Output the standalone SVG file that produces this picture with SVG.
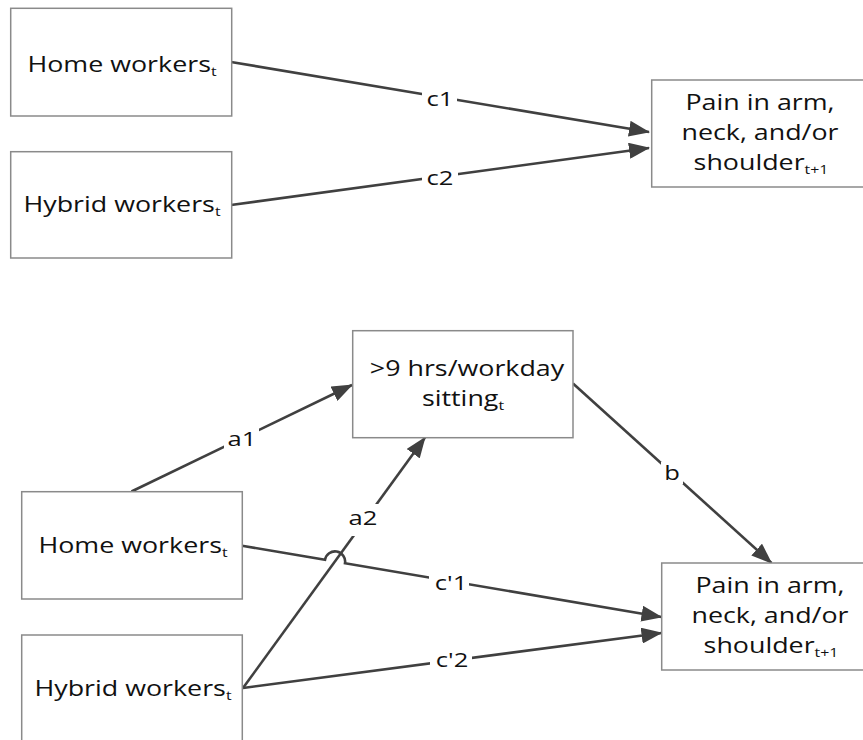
<svg xmlns="http://www.w3.org/2000/svg" width="863" height="740" viewBox="0 0 863 740">
<style>
.box{fill:#fff;stroke:#8a8a8a;stroke-width:1.5}
.t{font-family:"Open Sans","Liberation Sans",sans-serif;font-size:22px;fill:#111;text-anchor:middle}
.sub{font-size:13px}
.edge{fill:none;stroke:#404040;stroke-width:2.6}
.lbl{font-family:"Open Sans","Liberation Sans",sans-serif;font-size:20px;fill:#111;text-anchor:middle}
.bg{fill:#fff}
</style>
<defs>
<marker id="arr" markerUnits="userSpaceOnUse" markerWidth="21" markerHeight="16" viewBox="0 0 21 16" refX="20" refY="8" orient="auto">
<path d="M0,0 L21,8 L0,16 z" fill="#404040"/>
</marker>
</defs>
<rect width="863" height="740" fill="#fff"/>
<g id="connectors">
<line class="edge" x1="231" y1="62" x2="649" y2="132" marker-end="url(#arr)"/>
<line class="edge" x1="231" y1="205" x2="649" y2="148" marker-end="url(#arr)"/>
<line class="edge" x1="131.5" y1="491.5" x2="352" y2="385" marker-end="url(#arr)"/>
<line class="edge" x1="243" y1="688" x2="425" y2="437.5" marker-end="url(#arr)"/>
<line class="edge" x1="573" y1="383.5" x2="771.5" y2="563" marker-end="url(#arr)"/>
<path class="edge" d="M242,545.7 L325,559.8 A10,10 0 0 1 345,563.2 L661.5,617" marker-end="url(#arr)"/>
<line class="edge" x1="243" y1="688" x2="661.5" y2="633" marker-end="url(#arr)"/>
<rect class="bg" x="422" y="88" width="35" height="22"/>
<text class="lbl" transform="translate(440 106) scale(1.28 1)">c1</text>
<rect class="bg" x="422" y="166" width="36" height="22"/>
<text class="lbl" transform="translate(440 185) scale(1.28 1)">c2</text>
<rect class="bg" x="224" y="428" width="35" height="22"/>
<text class="lbl" transform="translate(242 446) scale(1.28 1)">a1</text>
<rect class="bg" x="349" y="504" width="31" height="32"/>
<text class="lbl" transform="translate(363 525) scale(1.28 1)">a2</text>
<rect class="bg" x="661" y="462" width="22" height="22"/>
<text class="lbl" transform="translate(672 480) scale(1.28 1)">b</text>
<rect class="bg" x="429" y="572" width="40" height="22"/>
<text class="lbl" transform="translate(451 590) scale(1.28 1)">c'1</text>
<rect class="bg" x="430" y="649" width="42" height="22"/>
<text class="lbl" transform="translate(452 667) scale(1.28 1)">c'2</text>
</g>
<g id="home-top">
<rect class="box" x="10.7" y="8.3" width="221" height="107.7"/>
<text class="t" transform="translate(122 72) scale(1.22 1)">Home workers<tspan class="sub" dy="4">t</tspan></text>
</g>
<g id="hybrid-top">
<rect class="box" x="10.7" y="151.7" width="221" height="106.3"/>
<text class="t" transform="translate(122 212) scale(1.22 1)">Hybrid workers<tspan class="sub" dy="4">t</tspan></text>
</g>
<g id="pain-top">
<rect class="box" x="651.7" y="80" width="220" height="107"/>
<text class="t" transform="translate(760 110) scale(1.22 1)">Pain in arm,</text>
<text class="t" transform="translate(760 140) scale(1.22 1)">neck, and/or</text>
<text class="t" transform="translate(761 170) scale(1.22 1)">shoulder<tspan class="sub" dy="4">t+1</tspan></text>
</g>
<g id="sitting">
<rect class="box" x="352.7" y="330.7" width="220.3" height="107"/>
<text class="t" transform="translate(467 376) scale(1.22 1)">&gt;9 hrs/workday</text>
<text class="t" transform="translate(463 406) scale(1.22 1)">sitting<tspan class="sub" dy="4">t</tspan></text>
</g>
<g id="home-bottom">
<rect class="box" x="21.7" y="491.7" width="220.6" height="107.3"/>
<text class="t" transform="translate(133 553) scale(1.22 1)">Home workers<tspan class="sub" dy="4">t</tspan></text>
</g>
<g id="hybrid-bottom">
<rect class="box" x="21.7" y="635" width="220.6" height="110"/>
<text class="t" transform="translate(133 696) scale(1.22 1)">Hybrid workers<tspan class="sub" dy="4">t</tspan></text>
</g>
<g id="pain-bottom">
<rect class="box" x="661.7" y="563" width="220" height="107"/>
<text class="t" transform="translate(770 593) scale(1.22 1)">Pain in arm,</text>
<text class="t" transform="translate(770 623) scale(1.22 1)">neck, and/or</text>
<text class="t" transform="translate(771 653) scale(1.22 1)">shoulder<tspan class="sub" dy="4">t+1</tspan></text>
</g>
</svg>
